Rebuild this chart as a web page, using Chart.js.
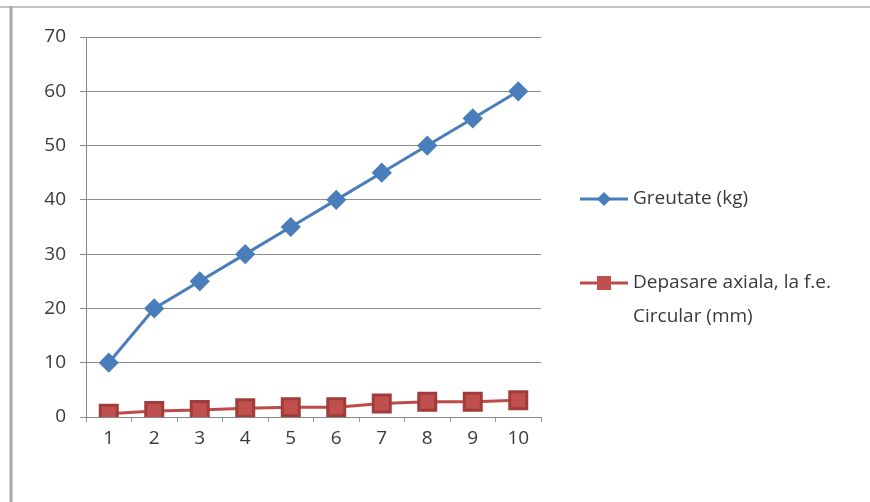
<!DOCTYPE html>
<html>
<head>
<meta charset="utf-8">
<script src="https://cdn.jsdelivr.net/npm/chart.js@4"></script>
<style>
  body { margin: 0; background: #fff; }
  #wrap { position: relative; width: 870px; height: 502px; }
</style>
</head>
<body>
<div id="wrap"><canvas id="greutateChart"></canvas></div>
<script>
// data
const categories = ['1', '2', '3', '4', '5', '6', '7', '8', '9', '10'];
const greutate = [10, 20, 25, 30, 35, 40, 45, 50, 55, 60];
const depasare = [0.6, 1.1, 1.3, 1.6, 1.8, 1.8, 2.5, 2.8, 2.8, 3.1];
const seriesNames = ['Greutate (kg)', ['Depasare axiala, la f.e.', 'Circular (mm)']];

const FONT = '"Open Sans", sans-serif';

// frame + legend drawn on the right, Excel style
const sideLegend = {
    id: 'sideLegend',
    beforeDraw(chart) {
        const c = chart.ctx;
        c.save();
        c.strokeStyle = '#c4c4c4';
        c.lineWidth = 2;
        c.beginPath();
        c.moveTo(0, 7);
        c.lineTo(870, 7);
        c.stroke();
        c.strokeStyle = '#a8a8a8';
        c.lineWidth = 3;
        c.beginPath();
        c.moveTo(11, 502);
        c.lineTo(11, 6);
        c.stroke();
        c.restore();
    },
    afterDraw(chart) {
        const c = chart.ctx;
        const rows = [199, 283];
        c.save();
        c.font = '19px ' + FONT;
        c.textBaseline = 'middle';
        chart.data.datasets.forEach((ds, i) => {
            const y = rows[i];
            c.strokeStyle = ds.borderColor;
            c.lineWidth = 3;
            c.beginPath();
            c.moveTo(580, y);
            c.lineTo(628, y);
            c.stroke();
            c.fillStyle = ds.pointBackgroundColor;
            if (ds.pointStyle === 'rect') {
                c.fillRect(597, y - 7, 14, 14);
            } else {
                c.beginPath();
                c.moveTo(604, y - 7);
                c.lineTo(611, y);
                c.lineTo(604, y + 7);
                c.lineTo(597, y);
                c.closePath();
                c.fill();
            }
            c.fillStyle = '#3a3a3a';
            const lines = [].concat(seriesNames[i]);
            lines.forEach((t, k) => c.fillText(t, 633, y + k * 34));
        });
        c.restore();
    }
};

const ctx = document.getElementById('greutateChart').getContext('2d');
new Chart(ctx, {
    type: 'line',
    data: {
        labels: categories,
        datasets: [{
            label: 'Greutate (kg)',
            data: greutate,
            borderColor: '#4a7ebb',
            pointBackgroundColor: '#4a7ebb',
            pointBorderColor: '#4a7ebb',
            pointStyle: 'rectRot',
            pointRadius: 8,
            borderWidth: 3,
            tension: 0
        }, {
            label: 'Depasare axiala, la f.e. Circular (mm)',
            data: depasare,
            borderColor: '#be4b48',
            pointBackgroundColor: '#c0504d',
            pointBorderColor: '#a03c3a',
            pointStyle: 'rect',
            pointRadius: 12,
            borderWidth: 3,
            tension: 0
        }]
    },
    options: {
        responsive: true,
        maintainAspectRatio: false,
        animation: false,
        layout: { padding: { left: 10, top: 37, right: 329, bottom: 45 } },
        plugins: { legend: { display: false }, tooltip: { enabled: false } },
        scales: {
            x: {
                offset: true,
                afterFit: (s) => { s.height = 40; },
                grid: { display: true, drawOnChartArea: false, drawTicks: true, tickLength: 5, color: '#999', offset: true },
                border: { color: '#888', width: 1 },
                ticks: { color: '#3a3a3a', font: { family: FONT, size: 19 }, padding: 5 }
            },
            y: {
                min: 0,
                max: 70,
                afterFit: (s) => { s.width = 76; },
                grid: { color: '#8c8c8c', tickLength: 6, lineWidth: 1 },
                border: { color: '#888', width: 1 },
                ticks: { stepSize: 10, color: '#3a3a3a', font: { family: FONT, size: 19 }, padding: 14 }
            }
        }
    },
    plugins: [sideLegend]
});
</script>
</body>
</html>
